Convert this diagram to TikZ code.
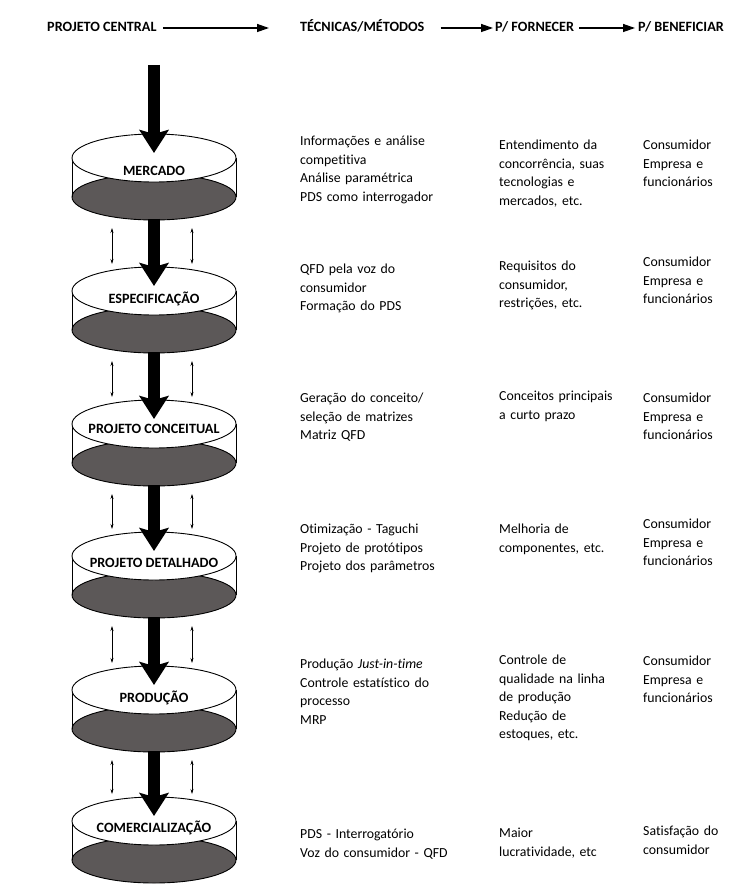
\documentclass[tikz,border=0pt]{standalone}
\usepackage{fontspec}
\setmainfont{Carlito}[Ligatures=NoCommon]
\usetikzlibrary{arrows.meta,calc}
\definecolor{discgray}{RGB}{92,88,88}
\begin{document}
\begin{tikzpicture}[x=1pt,y=-1pt,
  every node/.style={inner sep=0pt},
  txt/.style={font=\fontsize{13.8}{18.6}\selectfont, align=left, anchor=base west, text width=#1},
  txt/.default=190pt,
  hdr/.style={font=\bfseries\fontsize{14.2}{16}\selectfont, anchor=base west, text height=10pt, text depth=3pt},
  lbl/.style={font=\bfseries\fontsize{14.2}{16}\selectfont, text height=10pt, text depth=3pt},
  hdrarrow/.style={line width=1.3pt, -{Triangle[length=12pt,width=8pt]}},
  flow/.style={line width=12pt, -{Stealth[length=23pt,width=29pt,inset=4pt]}},
  link/.style={line width=0.6pt, {Stealth[length=5pt,width=3pt]}-{Stealth[length=5pt,width=3pt]}},
  disctop/.style={fill=white, draw=black, line width=0.9pt},
  discfloor/.style={fill=discgray, draw=black, line width=0.9pt}
]
\useasboundingbox (0,0) rectangle (740,885);

% column headings
\node[hdr] (h1) at (47,31.5) {PROJETO CENTRAL};
\node[hdr] (h2) at (300,31.5) {TÉCNICAS/MÉTODOS};
\node[hdr] (h3) at (495,31.5) {P/ FORNECER};
\node[hdr] (h4) at (638,31.5) {P/ BENEFICIAR};
\draw[hdrarrow, shorten <=6pt, shorten >=31pt] (h1) -- (h2);
\draw[hdrarrow, shorten <=16pt, shorten >=2pt] (h2) -- (h3);
\draw[hdrarrow, shorten <=5pt, shorten >=3pt] (h3) -- (h4);

% stages: open discs with a dark floor (C = centre of the upper rim, L = label offset)
\foreach \i/\C/\L/\name in {1/158/14/MERCADO, 2/291/9/ESPECIFICAÇÃO, 3/424/6/PROJETO CONCEITUAL,
                            4/556/8/PROJETO DETALHADO, 5/690/9/PRODUÇÃO, 6/821/8/COMERCIALIZAÇÃO} {
  \filldraw[discfloor] (154,\C+39) ellipse [x radius=82pt, y radius=23pt];
  \draw[line width=0.9pt] (72,\C) -- (72,\C+39) (236,\C) -- (236,\C+39);
  \filldraw[disctop] (154,\C) ellipse [x radius=82pt, y radius=24pt];
  \node[lbl] (s\i) at (154,\C+\L) {\name};
  \coordinate (tip\i) at (154,\C-5);
  \coordinate (rim\i) at (154,\C-24);
  \coordinate (bot\i) at (154,\C+61);
}

% main flow
\coordinate (start) at (154,65);
\draw[flow] (start) -- (tip1);
\foreach \i/\j in {1/2,2/3,3/4,4/5,5/6} {
  \draw[flow] (bot\i) -- (tip\j);
  \draw[link] ($(bot\i)+(-42,9)$) -- ($(rim\j)+(-42,-3)$);
  \draw[link] ($(bot\i)+(38,9)$) -- ($(rim\j)+(38,-3)$);
}

% techniques, outputs and beneficiaries
\node[txt] (m1) at (300,145.5) {Informações e análise\\competitiva\\Análise paramétrica\\PDS como interrogador};
\node[txt=140pt] (f1) at (499,149.5) {Entendimento da\\concorrência, suas\\tecnologias e\\mercados, etc.};
\node[txt=95pt] (b1) at (643,149.5) {Consumidor\\Empresa e\\funcionários};

\node[txt] (m2) at (300,273.5) {QFD pela voz do\\consumidor\\Formação do PDS};
\node[txt=140pt] (f2) at (499,270.5) {Requisitos do\\consumidor,\\restrições, etc.};
\node[txt=95pt] (b2) at (643,266.5) {Consumidor\\Empresa e\\funcionários};

\node[txt] (m3) at (300,402.5) {Geração do conceito/\\seleção de matrizes\\Matriz QFD};
\node[txt=140pt] (f3) at (499,400.5) {Conceitos principais\\a curto prazo};
\node[txt=95pt] (b3) at (643,402.5) {Consumidor\\Empresa e\\funcionários};

\node[txt] (m4) at (300,533.5) {Otimização - Taguchi\\Projeto de protótipos\\Projeto dos parâmetros};
\node[txt=140pt] (f4) at (499,533.5) {Melhoria de\\componentes, etc.};
\node[txt=95pt] (b4) at (643,528.5) {Consumidor\\Empresa e\\funcionários};

\node[txt] (m5) at (300,668.5) {Produção \textit{Just-in-time}\\Controle estatístico do\\processo\\MRP};
\node[txt=140pt] (f5) at (499,664.5) {Controle de\\qualidade na linha\\de produção\\Redução de\\estoques, etc.};
\node[txt=95pt] (b5) at (643,665.5) {Consumidor\\Empresa e\\funcionários};

\node[txt] (m6) at (300,838.5) {PDS - Interrogatório\\Voz do consumidor - QFD};
\node[txt=140pt] (f6) at (499,837.5) {Maior\\lucratividade, etc};
\node[txt=95pt] (b6) at (643,835.5) {Satisfação do\\consumidor};
\end{tikzpicture}
\end{document}
